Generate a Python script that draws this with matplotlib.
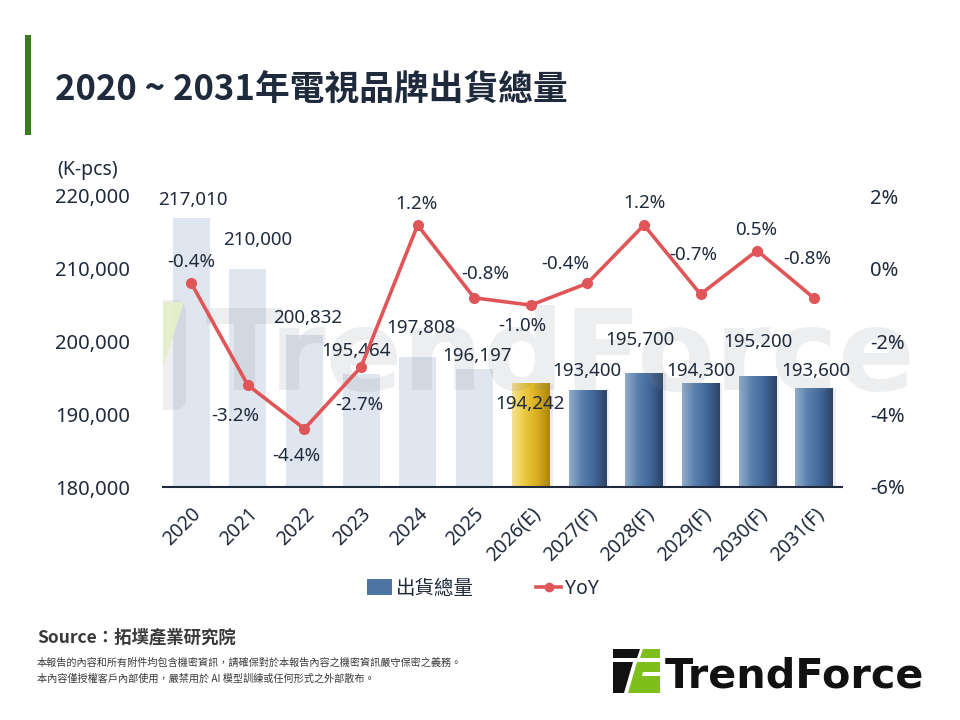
import numpy as np
import matplotlib
matplotlib.use('Agg')
import matplotlib.pyplot as plt
from matplotlib.colors import LinearSegmentedColormap
from matplotlib.patches import Patch, Polygon, FancyBboxPatch, Rectangle
from matplotlib.lines import Line2D

plt.rcParams['font.family'] = ['Noto Sans', 'Noto Sans CJK TC', 'DejaVu Sans']

# data
years = ['2020', '2021', '2022', '2023', '2024', '2025', '2026(E)',
         '2027(F)', '2028(F)', '2029(F)', '2030(F)', '2031(F)']
shipments = [217010, 210000, 200832, 195464, 197808, 196197, 194242,
             193400, 195700, 194300, 195200, 193600]
yoy = [-0.4, -3.2, -4.4, -2.7, 1.2, -0.8, -1.0, -0.4, 1.2, -0.7, 0.5, -0.8]
bar_kind = ['actual'] * 6 + ['estimate'] + ['forecast'] * 5
left_ticks = [180000, 190000, 200000, 210000, 220000]
right_ticks = [-6, -4, -2, 0, 2]

# label nudges in pixels (dx, dy downwards)
value_offsets = [(2, -18), (10, -29), (3, -17), (-5, -23), (3, -29), (3, -13),
                 (-1, 21), (-1, -19), (-4, -33), (0, -12), (1, -34), (2, -17)]
yoy_offsets = [(0, -21), (-13, 31), (-8, 27), (-2, 38), (-1, -21), (11, -24),
               (-8, 21), (-22, -19), (0, -22), (-7, -39), (-1, -21), (-6, -39)]

TXT = '#1f2a3c'
RED = '#e05558'
CJK = ['Noto Sans CJK TC']

fig = plt.figure(figsize=(9.6, 7.2), dpi=100)

# pixel-coordinate overlay for decorations
bg = fig.add_axes([0, 0, 1, 1])
bg.set_xlim(0, 960)
bg.set_ylim(720, 0)
bg.axis('off')

ax = fig.add_axes([163 / 960, 1 - 487 / 720, (842 - 163) / 960, (487 - 196) / 720])
ax.set_facecolor('none')

x = np.arange(len(years))
w = 0.655
cmaps = {
    'estimate': LinearSegmentedColormap.from_list('gold', ['#f6e296', '#ecc93f', '#d9ad1f', '#a98410']),
    'forecast': LinearSegmentedColormap.from_list('blue', ['#93adcb', '#5a80ae', '#41679a', '#2c4362']),
}
for i, (v, k) in enumerate(zip(shipments, bar_kind)):
    if k == 'actual':
        ax.bar(x[i], v - 180000, bottom=180000, width=w, color='#dfe6ef', zorder=2)
    else:
        ax.bar(x[i] + 0.06, v - 180000, bottom=180000, width=w, color='#000000', alpha=0.07, zorder=1.9)
        b = ax.bar(x[i], v - 180000, bottom=180000, width=w, color='none', zorder=2)[0]
        grad = np.linspace(0, 1, 256).reshape(1, -1)
        im = ax.imshow(grad, extent=[x[i] - w / 2, x[i] + w / 2, 180000, v], aspect='auto',
                       cmap=cmaps[k], zorder=2.1, interpolation='bicubic')
        im.set_clip_path(b)

for i, v in enumerate(shipments):
    dx, dy = value_offsets[i]
    ax.annotate(f'{v:,}', (x[i], v), xytext=(dx, -dy), textcoords='offset pixels',
                ha='center', va='center', fontsize=13.5, color=TXT, zorder=6)

ax.set_xlim(-0.5, 11.5)
ax.set_ylim(180000, 220000)
ax.set_yticks(left_ticks, [f'{t:,}' for t in left_ticks])
ax.set_xticks(x, years, rotation=45, ha='right', rotation_mode='anchor')
ax.tick_params(axis='y', length=0, pad=24, labelsize=14.5, labelcolor=TXT)
ax.tick_params(axis='x', length=0, pad=12, labelsize=14, labelcolor=TXT)
for s in ['top', 'left', 'right']:
    ax.spines[s].set_visible(False)
ax.spines['bottom'].set_color(TXT)
ax.spines['bottom'].set_linewidth(1.5)

# watermark (drawn over the bars, under the line)
wm_box = FancyBboxPatch((64, 300), 122, 110, boxstyle='round,pad=0,rounding_size=12',
                        transform=bg.transData, facecolor='#808890', alpha=0.13,
                        edgecolor='none', zorder=4)
ax.add_patch(wm_box)
ax.add_patch(Polygon([(150, 302), (184, 302), (150, 408), (116, 408)], closed=True,
                     transform=bg.transData, facecolor='#e4f0c8', alpha=0.9,
                     edgecolor='none', zorder=4.1))
ax.add_patch(Polygon([(76, 330), (140, 330), (134, 346), (72, 346)], closed=True,
                     transform=bg.transData, facecolor='white', alpha=0.8,
                     edgecolor='none', zorder=4.2))
wm = ax.text(205, 390, 'TrendForce', transform=bg.transData, fontsize=72,
             fontweight='bold', color='#808890', alpha=0.14, ha='left', va='baseline',
             zorder=4, family='DejaVu Sans')
rend = fig.canvas.get_renderer()
wm.set_fontsize(72 * 710 / wm.get_window_extent(rend).width)

ax2 = ax.twinx()
ax2.set_ylim(-6, 2)
ax2.plot(x, yoy, color=RED, lw=2.6, marker='o', ms=7, zorder=5)
ax2.set_yticks(right_ticks, [f'{t}%' for t in right_ticks])
ax2.tick_params(axis='y', length=0, pad=20, labelsize=14.5, labelcolor=TXT)
for s in ax2.spines.values():
    s.set_visible(False)
for i, v in enumerate(yoy):
    dx, dy = yoy_offsets[i]
    ax2.annotate(f'{v:.1f}%', (x[i], v), xytext=(dx, -dy), textcoords='offset pixels',
                 ha='center', va='center', fontsize=13.5, color=TXT, zorder=6)

# axis unit
bg.text(57, 170, '(K-pcs)', fontsize=14, color=TXT, ha='left', va='center')

# legend
handles = [Patch(facecolor='#4e74a3', edgecolor='none'),
           Line2D([0], [0], color=RED, lw=2.6, marker='o', ms=6)]
fig.legend(handles, ['出貨總量', 'YoY'], loc='center', bbox_to_anchor=(483 / 960, 1 - 589 / 720),
           ncol=2, frameon=False, fontsize=14, labelcolor=TXT, columnspacing=3.2,
           handletextpad=0.2, handlelength=1.3, handleheight=0.9)

# title block
bg.add_patch(Rectangle((25, 35), 6, 100, facecolor='#3d7a1f', edgecolor='none'))
bg.text(55, 90, '2020 ~ 2031年電視品牌出貨總量', fontsize=25, fontweight='bold',
        color=TXT, ha='left', va='center', family=CJK)

# source + disclaimer
bg.text(37, 637, 'Source：拓墣產業研究院', fontsize=12.5, fontweight='bold',
        color='#3a3a3a', ha='left', va='center', family=CJK)
bg.text(37, 663, '本報告的內容和所有附件均包含機密資訊，請確保對於本報告內容之機密資訊嚴守保密之義務。',
        fontsize=7.3, color='#3a3a3a', ha='left', va='center', family=CJK)
bg.text(37, 679, '本內容僅授權客戶內部使用，嚴禁用於 AI 模型訓練或任何形式之外部散布。',
        fontsize=7.3, color='#3a3a3a', ha='left', va='center', family=CJK)

# logo
bg.add_patch(Polygon([(613, 649), (640, 649), (637, 658), (613, 658)], facecolor='#111111', edgecolor='none'))
bg.add_patch(Polygon([(643, 649), (660, 649), (660, 658), (640, 658)], facecolor='#7fbf1c', edgecolor='none'))
bg.add_patch(Polygon([(613, 662), (633, 662), (624, 693), (613, 693)], facecolor='#111111', edgecolor='none'))
bg.add_patch(Polygon([(637, 662), (660, 662), (660, 693), (628, 693)], facecolor='#7fbf1c', edgecolor='none'))
bg.add_patch(Polygon([(643, 672), (660, 672), (660, 676), (642, 676)], facecolor='white', edgecolor='none'))
logo = bg.text(665, 688, 'TrendForce', fontsize=34, fontweight='bold', color='#111111',
               ha='left', va='baseline', family='DejaVu Sans')
logo.set_fontsize(34 * 260 / logo.get_window_extent(rend).width)

fig.savefig('out.png', dpi=100)
